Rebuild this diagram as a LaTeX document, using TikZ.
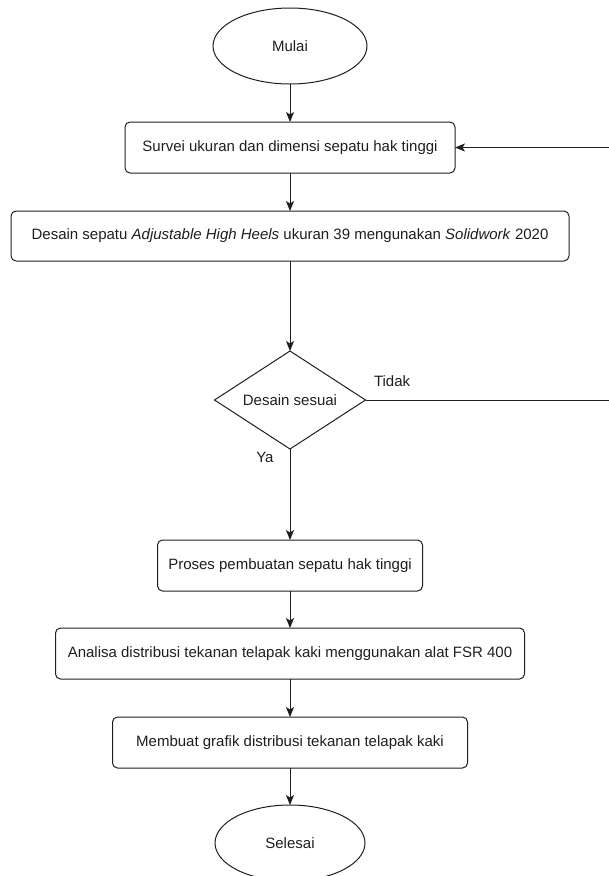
\documentclass[tikz,border=0pt]{standalone}
\usepackage{fontspec}
\setmainfont{Liberation Sans}
\usetikzlibrary{positioning, arrows.meta, shapes.geometric}
\definecolor{flowInk}{RGB}{30, 30, 30}
\tikzset{
  flowArrow/.style={
    draw=flowInk,
    line width=1pt,
    -{Stealth[length=10pt, width=8pt, inset=2.5pt]}
  },
  every edge/.style={
    flowArrow
  },
  stepBox/.style={
    draw=flowInk,
    line width=1pt,
    rounded corners=5pt,
    minimum height=51pt,
    inner sep=0pt,
    outer sep=0pt,
    text=flowInk,
    font=\fontsize{15}{18}\selectfont
  },
  endNode/.style={
    ellipse,
    draw=flowInk,
    line width=1pt,
    minimum width=154pt,
    minimum height=76pt,
    inner sep=0pt,
    outer sep=0pt,
    text=flowInk,
    font=\fontsize{15}{18}\selectfont
  },
  checkNode/.style={
    diamond,
    aspect=1.54,
    draw=flowInk,
    line width=1pt,
    minimum width=151pt,
    minimum height=98pt,
    inner sep=0pt,
    outer sep=0pt,
    text=flowInk,
    font=\fontsize{15}{18}\selectfont
  },
  branchLabel/.style={
    inner sep=0pt,
    text=flowInk,
    font=\fontsize{15}{18}\selectfont
  }
}
\begin{document}
\begin{tikzpicture}[x=1pt, y=1pt, node distance=38pt]
  \useasboundingbox (0,0) rectangle (609,-876);
  \node[endNode] (mulai) at (290,-46) {Mulai};
  \node[stepBox, minimum width=330pt] (survei) [below=of mulai] {Survei ukuran dan dimensi sepatu hak tinggi};
  \node[stepBox, minimum width=558pt, minimum height=50pt] (desain) [below=of survei] {Desain sepatu \textit{Adjustable High Heels} ukuran 39 mengunakan \textit{Solidwork} 2020};
  \node[checkNode] (sesuai) [below=90pt of desain] {Desain sesuai};
  \node[stepBox, minimum width=265pt] (proses) [below=91pt of sesuai] {Proses pembuatan sepatu hak tinggi};
  \node[stepBox, minimum width=469pt] (analisa) [below=37pt of proses] {Analisa distribusi tekanan telapak kaki menggunakan alat FSR 400};
  \node[stepBox, minimum width=355pt] (grafik) [below=of analisa] {Membuat grafik distribusi tekanan telapak kaki};
  \node[endNode, minimum width=150pt] (selesai) [below=37pt of grafik] {Selesai};
  \coordinate (balik) at (611,0);

  \path
  (mulai) edge (survei)
  (survei) edge (desain)
  (desain) edge (sesuai)
  (sesuai) edge node[branchLabel, pos=0.09, left=16pt] {Ya} (proses)
  (proses) edge (analisa)
  (analisa) edge (grafik)
  (grafik) edge (selesai);

  \draw[flowArrow] (sesuai.east) node[branchLabel, above right=13pt and 8pt] {Tidak}
    -- (sesuai.east -| balik) |- (survei.east);
\end{tikzpicture}
\end{document}
